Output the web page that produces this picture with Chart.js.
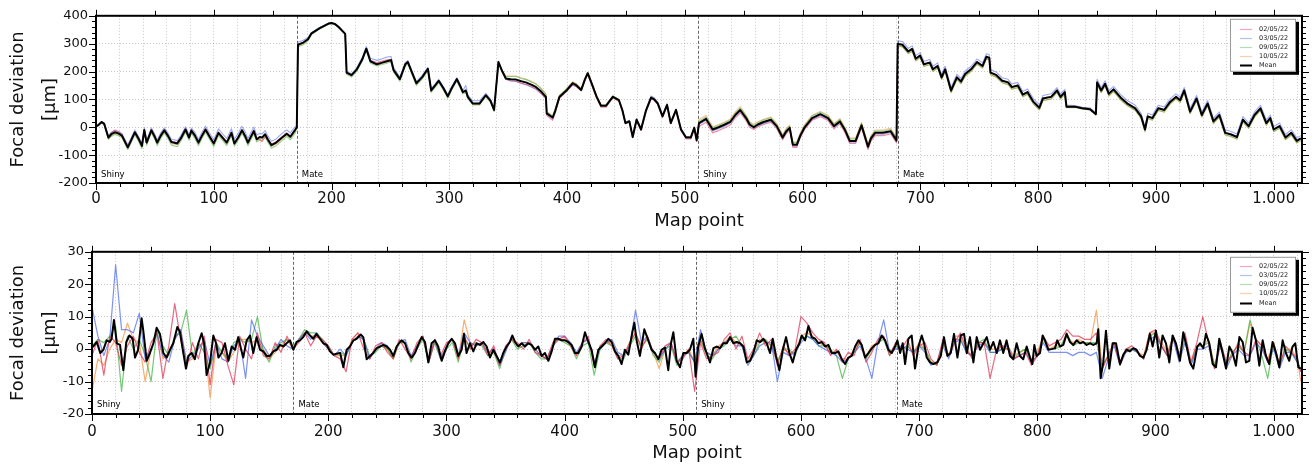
<!DOCTYPE html>
<html><head><meta charset="utf-8">
<script src="https://cdn.jsdelivr.net/npm/chart.js@4/dist/chart.umd.min.js"></script>
<style>
html,body{margin:0;padding:0;background:#fff;}
#w1{position:absolute;left:0;top:0;width:1315px;height:236px;}
#w2{position:absolute;left:0;top:236px;width:1315px;height:235px;}
</style></head><body>
<div id="w1"><canvas id="c1"></canvas></div>
<div id="w2"><canvas id="c2"></canvas></div>
<script>
// ---------- DATA ----------
const seriesNames = ['02/05/22','03/05/22','09/05/22','10/05/22','Mean'];
const segStarts = [0, 170.5, 511.3, 681];
const segLabels = ['Shiny','Mate','Shiny','Mate'];

// Top chart (focal deviation, µm)
const topX = [
0,2,4.8,7,10.5,13,16,19,22,27, 30,33,36,39,41,43,47,50,52,55, 58,61,64,69,72,76,79,81,84,87, 90,93,96,100,104,108,111,115,117.5,121, 124,127,129,132,134,136.5,139,141,143.6,146, 149,153,158,162,165,169,170.5,
171.5,176,180,183,190,197.5,200,203,206,211.6, 212.8,217,221.5,226,229.5,233,238.5,243,247,250.5, 252.7,258,262.6,264.8,268,272,277,281.8,284.6,288, 291,295,298.7,302,306.4,309,311.5,314,315.7,320, 325.6,331,335,338,341.7,345,348,352,356.7,361, 365,370,373.7,378,382,382.7,387.8,390,393.5,399, 404.8,408,412,415,417.5,421,425,428.8,433,438.8, 444,447,449.5,452.9,455.7,459,462.8,467,471.3,474, 477,481,484.9,488,492.5,496.7,501,505,508,510,
512,518,523.6,528.6,533.6,538.5,543,547,552,555, 558.5,562,566.8,573,578,583,586,589,591.7,595, 598,601.7,608,615,621.6,626.6,631.6,636,640,645, 650,655.5,658,661.5,668,674.75,679.7,
680.7,684.7,689.7,693,696,699.7,703,708,710.6,714.6, 718,721,726,731,734.5,738,743,748,752.8,756, 758.5,759.5,764.5,769.4,774.4,777.7,782.7,787,791,796, 801,804,811,816,819,822.6,824,831,837.5,844, 849,850,853.5,856.8,860,864,870.8,875.7,882.4,887.4, 890.7,893,897,902,907,912,917,920.6,924,929, 934.5,938.9,943.9,948.8,953.8,958.8,963.8,968.8,973.8,978.7, 983.7,988.7,993.7,997,1000,1005,1010,1015,1019.6,1023];
const topMean = [
3,8,19,12,-37,-25,-18,-22,-30,-72, -45,-18,-40,-67,-10,-55,-11,-35,-55,-30, -11,-30,-53,-58,-40,-8,-37,-12,-30,-55, -30,-8,-30,-58,-20,-40,-55,-20,-58,-35, -11,-35,-55,-30,-14,-43,-35,-37,-25,-45, -64,-55,-37,-23,-34,-10,0,
296,304,316,337,356,372,374,370,360,335, 196,187,208,243,282,237,226,232,237,241, 205,173,226,234,200,158,180,210,132,150, 167,140,111,140,173,150,126,132,109,85, 85,115,95,62,234,200,175,172,171,165, 161,152,144,128,109,50,35,60,109,130, 158,150,134,170,194,156,110,77,77,109, 97,60,15,21,-35,27,-8,60,106,100, 85,39,80,15,62,-8,-37,-37,-2,-47,
15,30,-8,0,9,19,45,62,33,10, 0,10,19,27,4,-37,-15,-2,-63,-63, -30,0,33,47,33,4,21,-10,-49,-49, 7,-70,-40,-20,-20,-14,-47,
299,296,272,281,246,257,226,232,208,220, 179,208,132,179,164,191,208,234,220,253, 249,196,187,167,161,144,150,117,126,91, 70,103,109,132,109,126,74,74,68,65, 47,161,132,156,120,136,103,85,68,39, -8,39,33,68,62,91,109,97,132,56, 103,44,85,21,44,-20,-26,-35,27,4, 44,68,15,33,-8,4,-37,-20,-49,-40];
const topRed = [
4,9,19,13,-33,-20,-10,-15,-25,-68, -42,-16,-37,-64,-8,-52,-8,-32,-52,-27, -8,-27,-50,-55,-37,-5,-34,-8,-27,-52, -27,-5,-27,-55,-17,-37,-52,-17,-55,-32, -8,-32,-52,-27,-10,-40,-45,-52,-35,-42, -60,-52,-35,-20,-32,-8,0,
298,305,317,337,356,372,374,370,360,335, 196,187,208,243,282,240,232,238,242,244, 207,174,227,235,200,158,180,210,132,150, 167,140,111,140,173,150,126,132,109,85, 85,115,95,62,234,200,172,167,165,158, 154,145,137,121,104,42,25,52,104,126, 152,145,130,166,190,150,105,72,72,105, 93,56,12,18,-38,24,-12,56,102,96, 82,35,76,12,58,-12,-42,-42,-6,-52,
3,18,-20,-12,-3,8,34,52,24,0, -8,2,10,18,-5,-45,-24,-10,-72,-72, -38,-8,25,38,24,-6,12,-20,-58,-58, -2,-80,-50,-30,-30,-24,-56,
300,298,274,283,248,259,228,234,210,222, 181,210,134,181,166,193,210,236,222,255, 251,198,189,169,163,146,152,119,128,93, 72,105,111,134,111,128,76,76,70,67, 49,163,134,158,122,138,105,87,70,41, -6,41,35,70,64,93,111,99,134,58, 105,46,87,23,46,-18,-24,-33,29,6, 46,70,17,35,-6,6,-35,-18,-47,-38];
const topBlue = [
5,10,21,15,-30,-18,-12,-15,-22,-63, -37,-10,-32,-58,-2,-46,-2,-26,-46,-20, -2,-20,-43,-48,-30,2,-27,-3,-18,-44, -18,4,-18,-45,-6,-26,-40,-5,-43,-20, 4,-20,-40,-15,1,-28,-22,-24,-12,-32, -50,-42,-22,-10,-20,2,4,
305,312,322,340,358,374,376,372,362,337, 200,192,214,250,290,248,240,246,252,254, 214,180,232,240,206,164,186,215,138,156, 172,146,117,146,178,156,132,150,115,95, 95,122,101,68,238,203,172,166,164,157, 153,144,136,120,103,45,30,58,108,128, 152,146,132,170,194,155,110,78,78,110, 98,62,18,25,-30,30,-4,65,112,106, 90,44,85,20,66,-4,-33,-33,2,-42,
10,25,-13,-5,4,14,40,57,28,5, -5,5,14,22,0,-42,-20,-7,-68,-68, -35,-5,28,42,28,0,16,-15,-54,-54, 2,-75,-45,-25,-25,-19,-52,
310,308,283,292,257,268,237,243,219,231, 190,219,143,190,175,202,219,245,231,264, 260,207,198,178,172,155,161,128,137,102, 81,114,120,142,119,136,80,78,72,69, 52,172,143,167,131,147,114,96,79,50, 2,50,44,79,73,102,120,108,143,67, 114,55,96,32,55,-9,-15,-24,38,15, 55,79,26,44,3,15,-26,-9,-38,-30];
const topGreen = [
2,6,16,8,-44,-33,-26,-30,-38,-80, -54,-27,-50,-77,-20,-64,-20,-44,-66,-40, -21,-40,-64,-70,-50,-18,-47,-22,-40,-66, -40,-18,-40,-70,-30,-50,-66,-30,-68,-45, -22,-45,-66,-40,-24,-53,-45,-47,-35,-55, -75,-66,-48,-33,-45,-22,-4,
288,296,310,333,353,370,372,368,358,333, 190,180,201,236,275,230,220,225,230,235, 198,165,219,227,193,150,173,203,125,143, 160,133,104,133,166,143,119,125,102,80, 80,110,89,56,230,203,182,182,182,175, 171,162,154,138,118,55,40,66,114,136, 162,155,138,174,197,160,114,80,80,113, 100,63,18,24,-32,30,-5,63,108,102, 88,42,82,18,64,-6,-35,-35,0,-44,
22,37,-2,6,15,25,52,69,40,17, 6,16,26,34,10,-30,-8,4,-56,-56, -24,6,40,54,40,10,28,-4,-42,-42, 14,-63,-33,-14,-14,-8,-40,
292,289,265,274,239,250,219,225,201,213, 172,201,125,172,157,184,201,227,213,246, 242,189,180,160,154,137,143,110,119,84, 63,96,102,125,102,119,70,71,65,62, 44,154,125,149,113,129,96,78,61,32, -15,32,26,61,55,84,102,90,125,49, 96,37,78,14,37,-27,-33,-42,20,-3, 37,61,8,26,-15,-3,-44,-27,-56,-47];
const topOrange = [
3,7,17,9,-40,-30,-22,-27,-35,-77, -50,-23,-45,-72,-15,-60,-16,-40,-60,-35, -16,-35,-58,-63,-45,-13,-42,-17,-35,-60, -35,-13,-35,-63,-25,-45,-60,-25,-63,-40, -16,-40,-60,-35,-19,-48,-40,-42,-30,-50, -69,-60,-42,-28,-39,-15,-2,
292,300,313,335,354,371,373,369,359,334, 193,184,205,240,279,234,224,229,234,238, 202,169,223,231,197,154,177,207,129,147, 164,137,108,137,170,147,123,129,106,83, 83,113,92,59,232,204,184,184,184,177, 173,164,156,140,120,57,40,66,114,136, 163,155,138,174,197,160,114,80,80,113, 100,63,18,24,-32,30,-5,63,109,103, 88,42,83,18,65,-5,-35,-35,0,-44,
28,42,2,10,19,29,56,74,44,20, 10,20,29,37,14,-27,-5,8,-53,-53, -20,10,43,57,43,14,31,0,-39,-39, 17,-60,-30,-10,-10,-4,-37,
290,288,264,273,238,249,218,224,200,212, 171,200,124,171,156,183,200,226,212,245, 241,188,179,159,153,136,142,109,118,83, 62,95,101,124,101,118,72,73,67,64, 46,153,124,148,112,128,95,77,60,31, -16,31,25,60,54,83,101,89,124,48, 95,36,77,13,36,-28,-34,-43,19,-4, 36,60,7,25,-16,-4,-45,-28,-57,-48];

// Bottom chart (focal deviation after trend removal, µm)
const botMeanX = [
0,1,4,7,9.6,12.4,15,16.6,18.6,21, 23.7,26.5,29,31.6,34.4,36.4,39,42,43.4,46.3,
49,52,54.7,57.5,60.4,63.2,66,68.8,72.2,74.5, 77.3,79.5,81.5,84.3,87,90,92.8,94.8,97,99.9,
102.7,105,107,109.7,112.5,115.4,118.2,121,123.8,125.8, 128,130.9,133.7,136.5,139.3,142.2,145,147.8,150.6,153.5,
156.3,159,162,164.7,167.6,170.4,173.2,176,178.8,181.7, 184.5,187.3,190,193,195.8,198.6,201.4,204.2,207,210,
212.7,215.5,218.3,221.2,224,227.4,229.6,232.4,235.3,238, 241,243.7,246.5,249.4,252.2,255,257.8,260.6,262,264.9,
267.7,270.5,273.3,276.1,279,281.8,284.6,287.4,290.3,293, 295.9,298.7,301.5,304.4,307.2,310,312.8,314.8,317,319.9,
322.7,325.5,328.3,331.2,334,336.8,339.6,342.4,345.3,348, 350.9,353.7,355.7,358,360.8,363.6,366.4,369.2,372,374.9,
377.7,380.5,383.3,386.2,389,391.8,394.6,397.4,400.3,403.1, 405.9,408.7,411.5,414.4,417.2,420,422.8,425.6,428.5,431.3,
434.1,436.9,439.8,442.6,445.4,448.2,451,453.9,457.3,459, 460.9,463.7,467.4,470.8,473.6,476.4,479.3,482,484.9,487.7,
490,492,494.8,497.6,500.4,503.2,506,508.9,510.8,513, 515.9,518.6,520.2,523,525.9,528.7,531.5,534.3,537.2,540,
542.8,545.6,548.5,551.3,554.1,556.9,559.7,562.6,565.4,568.2, 571,573.8,576.1,578.9,581.7,584.6,587.4,590.2,593,595.8,
598.7,600.6,603.5,606.3,609.1,612,614.7,617.6,620.4,623.2, 626,628.9,631.7,634.5,637.3,640.1,643,645.8,648.6,651.4,
654.2,657.1,660,662.7,665.5,668.3,671.2,674,676.8,679.6, 681.6,683.9,686.1,688.1,690.9,693.7,696.5,699.4,702.2,704.2,
706.4,709.2,712,715.4,718.3,721,723.9,726.7,729.5,732.4, 735.2,738,740.3,743,745.9,748.7,751.5,754.4,757.2,760,
762.8,765.7,768.4,771.2,774,776.9,779.7,782.5,785.3,788.1, 791,793.8,795.8,797.5,799.4,802.3,804.5,806.5,809.3,812.1,
815,816.9,819.2,822,824.8,827.6,830.5,833.3,836.1,838.9, 841.7,844.6,847.4,850.2,851.6,853.6,855.8,858.1,860.9,863.7,
866.6,870,872.8,875.6,878.4,881.2,884,886.9,889.7,892.5, 895.3,897.6,900.4,903.2,906,908.9,911.7,914.5,917.3,920.7,
923.5,926.4,929.2,932,935.4,937.7,940.5,942.7,945.5,948.4, 951.2,954,956.8,959.7,962.5,965.3,968.1,971,973.8,976.6,
979.4,982.2,985,987.9,990.7,993.5,996.3,999.1,1002,1004.8, 1007.6,1010.4,1013.2,1016,1018.3,1020.9,1023];
const botMean = [
0.5,0.8,2.2,-1.2,-0.2,2.7,2.2,3.2,9,1.8, 1.3,-6.5,2.2,4.2,3.2,-2.6,-0.2,9.5,5.7,-3.6,
-1.2,1.8,6.6,4.7,-1.2,-2.6,-0.2,1.8,6.8,5.2, -1.2,-6,-2.1,-1.2,-3.1,1.8,4.9,1.8,-8,-4.1,
4.2,1.8,-2.6,-1.2,1.8,-3.6,0.8,-0.2,3.7,0.5, -2.6,2.7,4.2,-1.2,3.7,-0.2,-0.7,-2.1,-2.1,-0.7,
-0.2,1.3,0.8,1.8,2.7,-0.2,2.2,2.7,3.7,5.5, 4.2,3.2,4.7,3.2,1.8,1.3,-0.7,-1.7,-1.4,-1.2,
-5.6,-0.2,0.8,2.7,3.2,4.5,3.7,-3.1,-2.1,-1.2, 0.3,0.8,1.3,0.8,-0.2,-2.1,0.8,2.2,2.7,1.8,
-1.2,-2.6,-1.2,1.3,3.7,2.2,-4.1,1.8,2.7,0.8, -3.6,-0.7,1.8,3.2,1.8,-2.1,-0.2,4.7,-1.2,1.8,
-0.7,1.8,1.3,2.2,0.8,-2.6,-0.2,-2.1,-4.1,-1.2, 0.8,2.2,4.2,2.2,0.8,1.8,0.8,1.8,1.3,-0.2,
0.8,-2.1,-1.2,-3.6,-0.7,3.2,3.2,2.7,2.7,2.2, 1.3,-1.2,-1.2,0.8,5.2,2.2,-0.2,-5.6,-0.2,0.8,
1.8,3.2,2.2,-0.7,-2.1,-4.6,-0.2,-1.7,5.2,8.1, 2.7,-2.1,6.1,2.7,-0.2,-1.2,-3.1,-0.2,0.5,-6.5,
1.8,5.2,-3.6,-5.6,-1.2,-1.2,-0.2,3.2,-8.5,0.8, 4.7,0.3,-1.2,-4.1,0.3,0.8,0.3,1.8,1.8,3.7,
1.8,2.2,1.8,0.8,-4.1,-3.6,-1.2,2.7,2.2,3.2, 1.8,-1.2,3.2,-2.1,-6.5,-0.2,3.7,-1.2,-4.1,-0.2,
1.8,4.2,2.7,7.1,3.7,3.2,1.8,2.2,0.8,1.3, -1.2,-1.2,-0.7,-3.1,-4.6,-2.6,-2.1,0.8,2.7,1.3,
-2.6,-1.2,0.3,1.3,1.8,4.2,2.7,-0.2,-1.2,0.8, 2.7,-1.2,1.8,-4.6,3.2,4.2,-6,0.8,4.2,1.8,
-2.6,-4.1,-4.6,-4.1,-2.1,3.7,-2.1,-1.2,4.7,-2.6, 4.2,4.7,-1.2,3.7,-4.1,3.7,-0.2,1.8,3.7,-0.2,
2.2,-1.2,2.7,-1.2,2.7,-2.1,-3.1,1.8,-2.1,-3.1, 0.8,-2.6,-4.6,1.3,-2.1,-1.2,4.2,2.7,-0.2,0,
0.3,2.7,0.8,1.3,4.7,2.2,1.3,2.7,1.8,2.2, 1.3,1.8,1.3,1.8,6.1,-9,-4.1,5.7,-6,1.8,
1.8,-4.6,-1.7,-0.2,-0.7,0.3,-0.2,-2.1,-2.6,-0.2, 4.7,0.8,5.7,-2.6,4.2,1.8,-4.1,4.2,1.8,-3.6,
5.2,0.8,-4.1,-6,0.8,1.8,0.3,4.7,1.8,-4.6, -5.6,3.2,-1.2,-6,0.8,-1.2,-5.1,3.7,2.2,-4.1,
-3.6,6.6,2.7,-5.1,2.7,-2.1,-4.6,2.2,-1.2,-5.6, 2.7,-1.2,-3.6,0.8,1.8,-5.6,-6];

const botRunX = [
0,5,10,15,20,25,30,35,40,45, 50,55,60,65,70,75,80,85,90,95,
100,105,110,115,120,125,130,135,140,145, 150,155,160,165,170,175,180,185,190,195,
200,205,210,215,220,225,230,235,240,245, 250,255,260,265,270,275,280,285,290,295,
300,305,310,315,320,325,330,335,340,345, 350,355,360,365,370,375,380,385,390,395,
400,405,410,415,420,425,430,435,440,445, 450,455,460,465,470,475,480,485,490,495,
500,505,510,515,520,525,530,535,540,545, 550,555,560,565,570,575,580,585,590,595,
600,605,610,615,620,625,630,635,640,645, 650,655,660,665,670,675,680,685,690,695,
700,705,710,715,720,725,730,735,740,745, 750,755,760,765,770,775,780,785,790,795,
800,805,810,815,820,825,830,835,840,845, 850,855,860,865,870,875,880,885,890,895,
900,905,910,915,920,925,930,935,940,945, 950,955,960,965,970,975,980,985,990,995,
1000,1005,1010,1015,1020,1023];
const botRed = [
-2,3,-8,4,2,-5,1,4,-1,-4, 2,5,-9,1,14,3,-6,2,-3,4,
-11,3,2,-5,-11,4,0,-3,5,-2, -3,2,-1,4,0,2,5,1,4,3,
1,-2,-3,-7,3,5,0,-3,1,2, -1,-3,3,0,-3,2,4,-4,3,-2,
2,3,-3,4,0,3,2,-2,1,-5, 1,3,2,0,3,-1,-2,-3,2,3,
4,1,-2,2,4,-5,1,3,1,-3, -2,2,5,0,4,-1,-3,1,2,-4,
-3,0,-13,2,-3,-2,-1,3,5,0, 4,-3,0,5,1,3,-5,1,-2,0,
10,8,5,3,2,-2,0,-4,-1,-2, 3,-4,-1,3,4,-2,2,0,3,-2,
1,2,-3,-5,3,-2,2,5,0,-3, 2,2,-9,-1,1,0,-3,-2,-1,-5,
-2,4,1,2,3,6,4,4,3,3, 5,-6,-2,2,-5,0,1,-1,-3,5,
6,1,-2,4,-2,5,-4,2,10,2, -6,2,-4,-2,2,-1,-2,3,1,-4,
2,-5,1,-1,-3,-7];
const botBlue = [
13,4,-2,3,26,6,6,5,11,-3, 0,5,-2,-4,3,6,-4,-2,0,3,
-5,2,-3,-4,1,3,-9,9,4,1, -2,0,3,1,0,3,5,3,5,2,
0,-2,0,-2,2,4,3,-3,0,2, 1,-2,2,3,-2,1,4,-4,3,-3,
1,3,-2,5,2,1,2,-1,0,-5, -1,4,1,2,2,0,-2,-3,1,4,
4,2,-1,2,3,-4,0,2,3,-1, -2,1,12,2,4,-1,-3,0,2,-4,
-2,-1,-4,6,-1,-2,0,2,3,1, 1,-5,-2,1,2,2,-10,-1,-2,-1,
2,4,3,1,0,-1,-2,-4,-3,-1, 1,-3,-9,2,9,-1,0,1,0,-1,
1,-1,-5,-4,1,-3,2,3,-1,-2, 1,2,-1,-1,0,1,-3,-2,-1,-4,
-2,2,-1,-1,-1,-1,-2,-1,-1,-2, -1,-9,-3,1,-5,-1,0,-1,-3,3,
4,1,-2,3,-4,2,-5,0,0,1, -6,1,-6,-2,0,-2,-2,2,0,-4,
0,-6,-1,-1,-4,-7];
const botGreen = [
1,3,2,4,7,-13,4,0,3,-2, -10,6,1,-2,4,5,12,-2,2,-1,
-6,2,-1,-3,2,3,2,3,10,-1, -4,1,2,3,1,3,6,5,5,3,
1,-2,-1,-2,2,4,3,-2,-1,1, 0,-3,2,2,-4,0,3,-4,2,-3,
0,2,-4,3,1,2,1,-2,-1,-6, 0,3,0,1,2,-1,-3,-3,1,3,
2,1,-3,1,2,-8,0,2,1,-3, -3,1,4,1,3,-2,-4,0,1,-5,
-2,-1,-4,3,-2,-3,0,1,3,4, 1,-4,-2,2,3,1,-4,0,0,-2,
3,4,3,1,1,0,-2,-9,-3,-1, 2,-3,0,2,3,-2,1,0,1,-1,
1,0,-4,-5,2,-2,3,3,-1,-2, 2,3,-1,-1,0,0,-3,-1,0,-4,
-2,3,0,0,1,5,1,2,2,2, 2,-5,-2,2,-5,0,0,-1,-3,4,
5,1,-2,4,-3,3,-5,1,1,2, -5,2,-5,-1,1,-1,9,3,-2,-9,
2,-5,0,-1,-4,-6];
const botOrange = [
-13,-3,-5,0,3,2,8,3,2,-10, 0,5,-3,-1,3,6,-4,-3,1,2,
-15,1,-1,-4,-1,3,3,2,3,0, -3,-1,1,3,0,3,5,4,4,2,
0,-2,-2,-2,3,5,3,-3,0,1, 0,-3,2,2,-3,1,4,-4,2,-3,
1,3,-3,9,2,1,2,-1,-1,-5, 0,3,1,2,2,0,-2,-3,1,3,
3,1,-2,2,3,-5,1,2,2,-2, -2,2,5,1,3,-1,-6,0,2,-4,
-2,0,-4,3,-1,-2,1,2,4,2, 1,-4,-1,3,2,1,-4,0,-1,-1,
4,5,4,2,1,-1,-1,-3,-3,0, 2,-2,1,2,4,-1,1,0,1,-1,
2,0,-4,-4,2,-2,4,4,0,-2, 2,2,0,0,1,1,-2,-1,0,-3,
-1,4,0,1,1,4,2,3,2,2, 12,-6,-2,2,-4,0,0,-1,-2,5,
5,2,-1,4,-2,4,-4,1,1,3, -5,2,-5,-1,1,-1,8,3,1,-3,
2,-5,0,0,-3,-10];

// ---------- STYLE ----------
const FONT = 'DejaVu Sans';
const topColors = ['rgba(225,60,95,0.6)','rgba(70,100,235,0.55)','rgba(60,175,60,0.55)','rgba(245,150,70,0.6)'];
const botColors = ['rgba(225,55,90,0.75)','rgba(70,100,235,0.7)','rgba(60,175,60,0.7)','rgba(245,145,65,0.75)'];
const legendColors = ['rgba(225,60,95,0.45)','rgba(70,100,230,0.4)','rgba(60,175,60,0.4)','rgba(245,150,70,0.45)','#000'];
Chart.defaults.font.family = FONT;

function pts(xs, ys){ return xs.map((x,i)=>({x:x, y:ys[i]})); }
function fmtX(v){ return String(v).replace(/\B(?=(\d{3})+(?!\d))/g,'.'); }

const framePlugin = {
  id:'frame',
  beforeDatasetsDraw(chart, args, o){
    const {ctx, chartArea:a, scales:{x}} = chart;
    ctx.save();
    ctx.strokeStyle = '#666'; ctx.lineWidth = 1; ctx.setLineDash([3,2]);
    segStarts.forEach(s=>{
      if (s <= 0) return;
      const px = Math.round(x.getPixelForValue(s)) + 0.5;
      ctx.beginPath(); ctx.moveTo(px, a.top); ctx.lineTo(px, a.bottom); ctx.stroke();
    });
    ctx.restore();
  },
  afterDraw(chart, args, o){
    const {ctx, chartArea:a, scales:{x, y}} = chart;
    ctx.save();
    ctx.setLineDash([]);
    ctx.fillStyle = '#000'; ctx.font = '8.5px "'+FONT+'"'; ctx.textAlign = 'left'; ctx.textBaseline = 'alphabetic';
    segStarts.forEach((s,i)=>{ ctx.fillText(segLabels[i], x.getPixelForValue(s) + 5, a.bottom - o.labelLift); });
    ctx.strokeStyle = '#000'; ctx.lineWidth = 2;
    ctx.strokeRect(a.left, a.top, a.right - a.left, a.bottom - a.top);
    ctx.lineWidth = 1; ctx.beginPath();
    for (let v = 0; v <= 1024; v += 20){
      const px = Math.round(x.getPixelForValue(v)) + 0.5;
      const L = v % 100 === 0 ? 7 : 4;
      ctx.moveTo(px, a.bottom); ctx.lineTo(px, a.bottom + L);
    }
    for (let v = 0; v <= 1024; v += 50){
      const px = Math.round(x.getPixelForValue(v)) + 0.5;
      const L = v % 100 === 0 ? 6 : 5;
      ctx.moveTo(px, a.top); ctx.lineTo(px, a.top - L);
    }
    for (let v = o.yMin; v <= o.yMax + 1e-9; v += o.yMinor){
      const py = Math.round(y.getPixelForValue(v)) + 0.5;
      const L = Math.abs(v % o.yMajor) < 1e-9 ? 7 : 4;
      ctx.moveTo(a.left, py); ctx.lineTo(a.left - L, py);
      ctx.moveTo(a.right, py); ctx.lineTo(a.right + L, py);
    }
    ctx.stroke();
    const bw = 66, bh = o.legH;
    const bx = a.right - 6 - bw, by = a.top + o.legTop;
    ctx.fillStyle = '#000'; ctx.fillRect(bx + 3, by + 3, bw, bh);
    ctx.fillStyle = '#fff'; ctx.fillRect(bx, by, bw, bh);
    ctx.strokeStyle = '#999'; ctx.lineWidth = 1; ctx.strokeRect(bx + 0.5, by + 0.5, bw - 1, bh - 1);
    ctx.font = '6.5px "'+FONT+'"'; ctx.textBaseline = 'middle';
    seriesNames.forEach((n,i)=>{
      const ry = Math.round(by + o.legFirst + i * o.legGap) + 0.5;
      ctx.strokeStyle = legendColors[i]; ctx.lineWidth = i === 4 ? 2 : 1.2;
      ctx.beginPath(); ctx.moveTo(bx + 10, ry); ctx.lineTo(bx + 22, ry); ctx.stroke();
      ctx.fillStyle = '#222'; ctx.fillText(n, bx + 29, ry);
    });
    ctx.restore();
  }
};

function makeChart(id, xsMean, mean, xsRuns, runs, cfg){
  const datasets = [{label:'Mean', data:pts(xsMean, mean), borderColor:'#000', borderWidth:2, order:0}];
  runs.forEach((r,i)=>datasets.push({label:seriesNames[i], data:pts(xsRuns, r), borderColor:cfg.colors[i], borderWidth:cfg.runWidth, order:1+i}));
  return new Chart(document.getElementById(id), {
    type:'line',
    data:{datasets},
    options:{
      responsive:true, maintainAspectRatio:false, animation:false, events:[],
      layout:{padding:{left:0, right:13, top:cfg.padTop, bottom:0}},
      elements:{point:{radius:0}, line:{tension:0, borderJoinStyle:'round'}},
      plugins:{legend:{display:false}, tooltip:{enabled:false}, frame:cfg.frame},
      scales:{
        x:{type:'linear', min:0, max:1024,
          afterFit(s){ s.height = cfg.xHeight; },
          ticks:{stepSize:20, includeBounds:false, autoSkip:false, maxRotation:0, padding:cfg.xPad, color:'#111',
            font:{family:FONT, size:15}, callback:v=> v % 100 === 0 ? fmtX(v) : ''},
          grid:{color:'rgba(0,0,0,0.22)', drawTicks:false, lineWidth:1},
          border:{display:false, dash:[1,2]},
          title:{display:true, text:'Map point', color:'#111', font:{family:FONT, size:18}, padding:{top:0, bottom:cfg.xTitlePad}}
        },
        y:{type:'linear', min:cfg.yMin, max:cfg.yMax,
          afterFit(s){ s.width = cfg.yWidth; },
          ticks:{stepSize:cfg.yStep, padding:8, color:'#111', font:{family:FONT, size:13}},
          grid:{color:'rgba(0,0,0,0.22)', drawTicks:false, lineWidth:1},
          border:{display:false, dash:[1,2]},
          title:{display:true, text:['Focal deviation','[µm]'], color:'#111', font:{family:FONT, size:18, lineHeight:1.78}, padding:{top:2, bottom:0}}
        }
      }
    },
    plugins:[framePlugin]
  });
}

makeChart('c1', topX, topMean, topX, [topRed, topBlue, topGreen, topOrange], {
  colors:topColors, runWidth:1.1,
  padTop:12, xHeight:53, xPad:7, xTitlePad:4, yMin:-200, yMax:400, yStep:100, yWidth:96,
  frame:{yMin:-200, yMax:400, yMinor:20, yMajor:100, labelLift:6, legTop:3, legH:53, legFirst:10, legGap:9}
});
makeChart('c2', botMeanX, botMean, botRunX, [botRed, botBlue, botGreen, botOrange], {
  colors:botColors, runWidth:1.2,
  padTop:7, xHeight:57, xPad:9, xTitlePad:7, yMin:-20, yMax:30, yStep:10, yWidth:92,
  frame:{yMin:-20, yMax:30, yMinor:2, yMajor:10, labelLift:7, legTop:5, legH:56, legFirst:9, legGap:9.2}
});
</script>
</body></html>
